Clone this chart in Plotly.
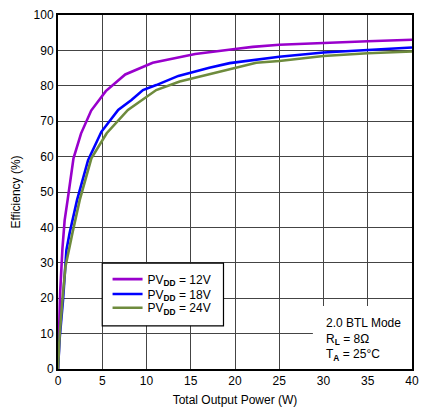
import plotly.graph_objects as go

# Data
p12_x = [0, 0.1, 0.25, 0.5, 0.75, 1.1, 1.75, 2.6, 3.75, 5.4, 7.6, 10.7, 13.4, 15.5, 20, 22, 25, 30, 35, 40]
p12_y = [0, 12, 22, 34, 42, 48, 59.5, 66.5, 73, 78.5, 83.2, 86.5, 88, 89, 90.4, 91, 91.6, 92.2, 92.6, 93]

p18_x = [0, 0.2, 0.57, 0.95, 1.32, 2.15, 3.4, 4.9, 6.8, 8.3, 9.6, 11.1, 13.6, 15.1, 17.1, 19.4, 22, 25, 30, 35, 40]
p18_y = [0, 9, 19.5, 33.6, 38.5, 47.7, 59, 67, 73.2, 76, 78.8, 80.2, 82.8, 83.8, 85.1, 86.4, 87.3, 88.2, 89.4, 90.1, 90.8]

p24_x = [0, 0.2, 0.5, 0.84, 1.62, 2.45, 3.77, 5.5, 7.9, 11.1, 13.75, 16, 19.8, 22.4, 25, 30, 35, 40]
p24_y = [0, 10, 19.5, 28.9, 38.3, 47.7, 59.5, 66.6, 73.2, 78.8, 81.2, 82.6, 84.9, 86.5, 87, 88.4, 89.2, 89.7]

series_names = ["PV<sub><b>DD</b></sub> = 12V", "PV<sub><b>DD</b></sub> = 18V", "PV<sub><b>DD</b></sub> = 24V"]
colors = ["#9900CC", "#0000FF", "#6E8B3D"]

x_ticks = [0, 5, 10, 15, 20, 25, 30, 35, 40]
y_ticks = [0, 10, 20, 30, 40, 50, 60, 70, 80, 90, 100]

FONT = "Liberation Sans, Arial, sans-serif"
legend_ids = ["legend", "legend2", "legend3"]
legend_y = [0.254, 0.212, 0.173]

fig = go.Figure()
for xs, ys, name, c, lg in zip([p12_x, p18_x, p24_x], [p12_y, p18_y, p24_y], series_names, colors, legend_ids):
    fig.add_trace(go.Scatter(x=xs, y=ys, mode="lines", name=name, legend=lg,
                             line=dict(color=c, width=2.6)))

# legend box
fig.add_shape(type="rect", xref="x", yref="y", x0=5, x1=18.7, y0=12.2, y1=29.9,
              fillcolor="white", line=dict(color="black", width=1.2), layer="above")
# annotation box (white background)
fig.add_shape(type="rect", xref="x", yref="y", x0=28.8, x1=40, y0=0, y1=17.8,
              fillcolor="white", line=dict(width=0), layer="above")

fig.add_annotation(xref="x", yref="y", x=30.1, y=15.5, xanchor="left", yanchor="top",
                   showarrow=False, align="left",
                   text="2.0 BTL Mode<br>R<sub><b>L</b></sub> = 8Ω<br>T<sub><b>A</b></sub> = 25°C",
                   font=dict(family=FONT, size=12, color="black"))

legend_common = dict(xanchor="left", yanchor="middle", bgcolor="rgba(0,0,0,0)", borderwidth=0,
                     font=dict(family=FONT, size=12, color="black"))
layout_legends = {}
for lg, ly in zip(legend_ids, legend_y):
    layout_legends[lg] = dict(x=0.14, y=ly, **legend_common)

fig.update_layout(
    width=421, height=411,
    margin=dict(l=58, r=9, t=15, b=42),
    paper_bgcolor="white", plot_bgcolor="white",
    font=dict(family=FONT, size=12, color="black"),
    showlegend=True,
    xaxis=dict(range=[0, 40], tickvals=x_ticks, showgrid=True, gridcolor="#444444", gridwidth=1,
               showline=True, linecolor="black", linewidth=2, mirror=True,
               ticks="", zeroline=False, automargin=False,
               title=dict(text="Total Output Power (W)", font=dict(size=12), standoff=8)),
    yaxis=dict(range=[0, 100], tickvals=y_ticks, showgrid=True, gridcolor="#444444", gridwidth=1,
               showline=True, linecolor="black", linewidth=2, mirror=True,
               ticks="", zeroline=False, automargin=False,
               title=dict(text="Efficiency (%)", font=dict(size=12), standoff=10)),
    **layout_legends,
)

fig.write_html(
    "out.html",
    config={"displayModeBar": False},
    post_script="document.body.style.margin='0';document.body.style.overflow='hidden';",
)
